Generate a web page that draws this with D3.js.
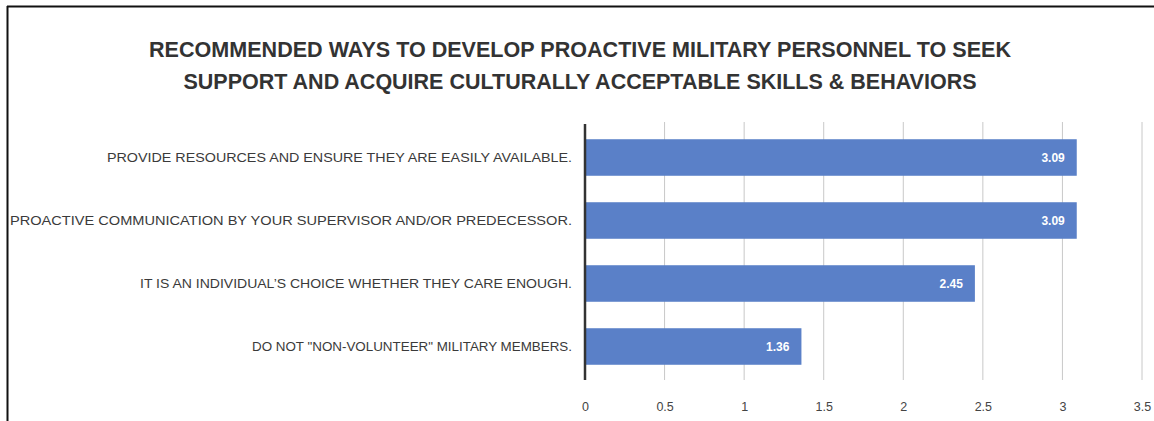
<!DOCTYPE html>
<html>
<head>
<meta charset="utf-8">
<script src="https://cdnjs.cloudflare.com/ajax/libs/d3/7.8.5/d3.min.js"></script>
<style>
  body { margin: 0; background: #fff; }
  svg { display: block; }
</style>
</head>
<body>
<div id="chart-area"></div>
<script>
// DATA
var categories = [
    "PROVIDE RESOURCES AND ENSURE THEY ARE EASILY AVAILABLE.",
    "PROACTIVE COMMUNICATION BY YOUR SUPERVISOR AND/OR PREDECESSOR.",
    "IT IS AN INDIVIDUAL\u2019S CHOICE WHETHER THEY CARE ENOUGH.",
    "DO NOT \"NON-VOLUNTEER\" MILITARY MEMBERS."
];
var values = [3.09, 3.09, 2.45, 1.36];
var tickValues = [0, 0.5, 1, 1.5, 2, 2.5, 3, 3.5];
var titleLines = [
    "RECOMMENDED WAYS TO DEVELOP PROACTIVE MILITARY PERSONNEL TO SEEK",
    "SUPPORT AND ACQUIRE CULTURALLY ACCEPTABLE SKILLS & BEHAVIORS"
];

var width = 1154;
var height = 421;
var font = "'Liberation Sans', Arial, sans-serif";

var svg = d3.select("#chart-area")
    .append("svg")
    .attr("width", width)
    .attr("height", height);

// frame (top + left only visible)
svg.append("line")
    .attr("x1", 7).attr("x2", width).attr("y1", 6.5).attr("y2", 6.5)
    .attr("stroke", "#111").attr("stroke-width", 2);
svg.append("line")
    .attr("x1", 7.5).attr("x2", 7.5).attr("y1", 6).attr("y2", height)
    .attr("stroke", "#111").attr("stroke-width", 2);

// TITLE - Calibri-like widths forced with textLength
var titleWidths = [862, 793];
svg.selectAll(".title")
    .data(titleLines)
    .enter()
    .append("text")
    .attr("class", "title")
    .attr("x", 580)
    .attr("y", (d, i) => 57 + i * 32)
    .attr("text-anchor", "middle")
    .attr("font-family", font)
    .attr("font-weight", "bold")
    .attr("font-size", "22px")
    .attr("fill", "#333")
    .attr("textLength", (d, i) => titleWidths[i])
    .attr("lengthAdjust", "spacingAndGlyphs")
    .text(d => d);

// SCALES
var x = d3.scaleLinear()
    .domain([0, 3.5])
    .range([585, 1142]);

var y = d3.scaleBand()
    .domain(categories)
    .range([126, 378])
    .paddingInner(0.42)
    .paddingOuter(0.21);

// gridlines
svg.append("g")
    .selectAll("line")
    .data(tickValues.slice(1))
    .enter()
    .append("line")
    .attr("x1", d => x(d)).attr("x2", d => x(d))
    .attr("y1", 122).attr("y2", 380)
    .attr("stroke", "#c8c8c8")
    .attr("stroke-width", 1);

// bottom axis (labels only)
var bottomAxis = d3.axisBottom(x)
    .tickValues(tickValues)
    .tickSize(0)
    .tickPadding(0)
    .tickFormat(d => d3.format("")(d));

var xAxis = svg.append("g")
    .attr("transform", "translate(0,402)")
    .call(bottomAxis);
xAxis.select(".domain").remove();
xAxis.selectAll("text")
    .attr("font-family", font)
    .attr("font-size", "12.5px")
    .attr("fill", "#444");

// BARS
svg.selectAll(".bar")
    .data(values)
    .enter()
    .append("rect")
    .attr("class", "bar")
    .attr("x", x(0))
    .attr("y", (d, i) => y(categories[i]))
    .attr("width", d => x(d) - x(0))
    .attr("height", y.bandwidth())
    .attr("fill", "#5a80c8");

// value labels
svg.selectAll(".value")
    .data(values)
    .enter()
    .append("text")
    .attr("class", "value")
    .attr("x", d => x(d) - 12)
    .attr("y", (d, i) => y(categories[i]) + y.bandwidth() / 2)
    .attr("dy", "0.35em")
    .attr("text-anchor", "end")
    .attr("font-family", font)
    .attr("font-weight", "bold")
    .attr("font-size", "12px")
    .attr("fill", "#fff")
    .text(d => d3.format(".2f")(d));

// category labels
var labelWidths = [465, 562, 432, 320];
svg.selectAll(".cat")
    .data(categories)
    .enter()
    .append("text")
    .attr("class", "cat")
    .attr("x", 572)
    .attr("y", d => y(d) + y.bandwidth() / 2)
    .attr("dy", "0.35em")
    .attr("text-anchor", "end")
    .attr("font-family", font)
    .attr("font-size", "13.5px")
    .attr("fill", "#3a3a3a")
    .attr("textLength", (d, i) => labelWidths[i])
    .attr("lengthAdjust", "spacingAndGlyphs")
    .text(d => d);

// left axis line
svg.append("line")
    .attr("x1", x(0)).attr("x2", x(0))
    .attr("y1", 124).attr("y2", 380)
    .attr("stroke", "#333")
    .attr("stroke-width", 2.5);
</script>
</body>
</html>
